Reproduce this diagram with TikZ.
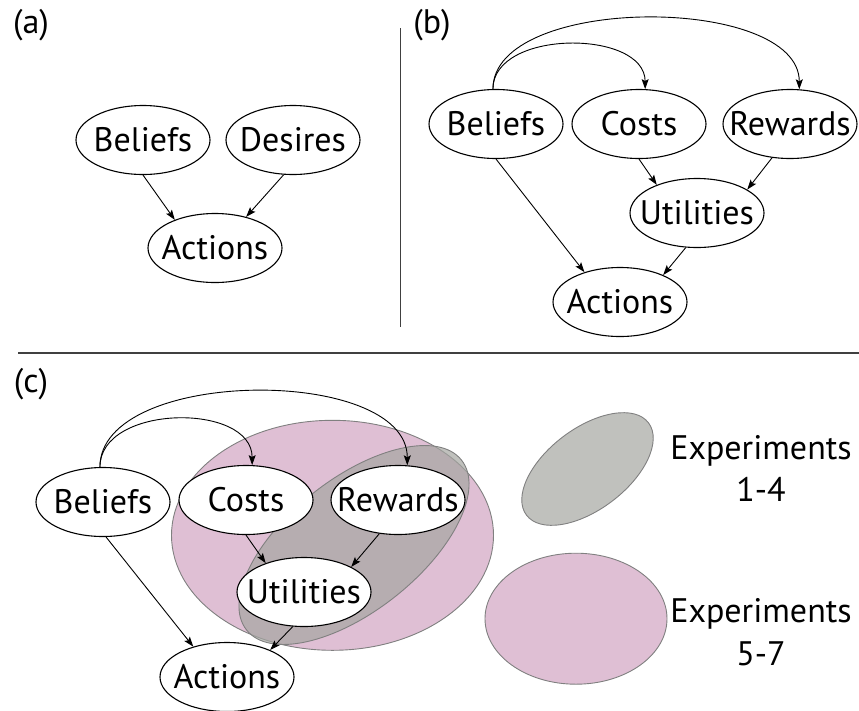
\documentclass[tikz,border=0pt]{standalone}
\usepackage{fontspec}
\setmainfont{PT Sans}
\usetikzlibrary{shapes.geometric,arrows.meta}
\definecolor{expPink}{HTML}{DFBFD4}
\definecolor{expGray}{HTML}{A5A6A1}
\tikzset{
  var/.style={ellipse,draw,line width=1.1pt,fill=white,inner ysep=0pt,inner xsep=-20pt,
    minimum width=134pt,minimum height=69pt,font=\fontsize{34}{40}\selectfont},
  lbl/.style={font=\fontsize{34}{42.5}\selectfont},
  blob/.style={ellipse,draw=black!50,line width=0.9pt,inner sep=0pt},
  rule/.style={draw=black!75,line width=1.2pt}
}
\begin{document}
\begin{tikzpicture}[x=1pt,y=-1pt,line width=0.9pt,
    >={Stealth[length=10pt,width=7pt,inset=2pt]}]
  \useasboundingbox (0,0) rectangle (859,710);

  % panel labels and dividers
  \node[lbl] (la) at (31,25) {(a)};
  \node[lbl] (lb) at (432,25) {(b)};
  \node[lbl] (lc) at (31,384) {(c)};
  \draw[rule] (400.7,28) -- (400.7,327);
  \draw[rule] (18,353) -- (859,353);

  % (c) experiment sets
  \node[blob,fill=expPink,minimum width=322pt,minimum height=230pt] (cPink) at (332.5,535.3) {};
  \node[blob,fill=expGray,fill opacity=0.7,rotate=38.3,minimum width=274pt,minimum height=132pt] (cGray) at (354,545) {};
  \node[blob,fill=expGray,fill opacity=0.7,rotate=37.1,minimum width=153pt,minimum height=81pt] (keyGray) at (587.5,469) {};
  \node[blob,fill=expPink,minimum width=182pt,minimum height=131pt] (keyPink) at (576,618.7) {};
  \node[lbl,align=center,anchor=base] (key14) at (761,501.7) {Experiments\\1-4};
  \node[lbl,align=center,anchor=base] (key57) at (761,665) {Experiments\\5-7};

  \draw
    (143,140) node[var] (aB){Beliefs}
    (293,140) node[var] (aD){Desires}
    (215,248) node[var] (aA){Actions}
    (496,124) node[var] (bB){Beliefs}
    (639,124) node[var] (bC){Costs}
    (790,124) node[var] (bR){Rewards}
    (697,213) node[var] (bU){Utilities}
    (620,302) node[var] (bA){Actions}
    (103,502) node[var] (cB){Beliefs}
    (246,500) node[var] (cC){Costs}
    (398,500) node[var] (cR){Rewards}
    (304,592) node[var] (cU){Utilities}
    (227,677) node[var] (cA){Actions};

  \begin{scope}[->]
    \draw (aB.south) to (aA.145);
    \draw (aD.255) to (aA.45);

    \draw (bB.95) .. controls +(0,-60) and +(0,-60) .. (bC.80);
    \draw (bB.95) .. controls +(0,-95) and +(0,-95) .. (bR.75);
    \draw (bB.south) to (bA.140);
    \draw (bC.south) to (bU.145);
    \draw (bR.242) to (bU.25);
    \draw (bU.252) to (bA.32);

    \draw (cB.95) .. controls +(0,-63) and +(0,-63) .. (cC.80);
    \draw (cB.95) .. controls +(0,-100) and +(0,-100) .. (cR.75);
    \draw (cB.275) to (cA.138);
    \draw (cC.south) to (cU.143);
    \draw (cR.241) to (cU.28);
    \draw (cU.252) to (cA.32);
  \end{scope}
\end{tikzpicture}
\end{document}
